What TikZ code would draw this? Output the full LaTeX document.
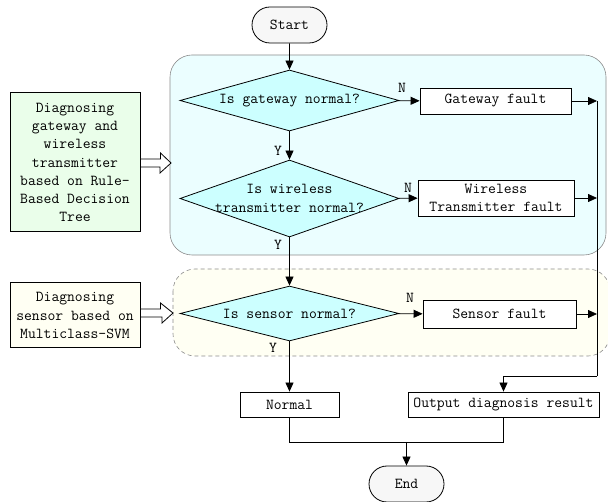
\documentclass[tikz,border=0pt]{standalone}
\usepackage{fontspec}
\usetikzlibrary{shapes.geometric,shapes.misc,arrows.meta,calc}
\definecolor{regionblue}{HTML}{EBFEFF}
\definecolor{regionyellow}{HTML}{FFFFF3}
\definecolor{decfill}{HTML}{CCFFFF}
\definecolor{methodgreen}{HTML}{EAFEEA}
\definecolor{methodyellow}{HTML}{FFFFF3}
\definecolor{rimgray}{HTML}{8C8C8C}
\tikzset{
  txt/.style={font=\ttfamily\fontsize{15.2}{18.3}\selectfont},
  terminal/.style={txt, draw, rounded rectangle, fill=white!97!black, line width=0.8pt,
    minimum width=75pt, minimum height=36pt, inner sep=0pt},
  decision/.style={draw, diamond, fill=decfill, line width=0.8pt, aspect=3.6,
    inner sep=0pt, minimum width=219pt},
  decisiontext/.style={txt, inner sep=0pt, align=center},
  procbox/.style={txt, draw, fill=white, line width=0.8pt, inner sep=0pt, align=center},
  method/.style={txt, draw, line width=1pt, inner sep=0pt, align=center},
  region/.style={draw=rimgray, line width=0.6pt, rounded corners=22pt},
  flow/.style={line width=0.8pt, -{Triangle[length=9pt,width=8pt]}},
  plain/.style={line width=0.8pt},
  yn/.style={txt, inner sep=0pt},
  hollow/.style={draw, fill=white, line width=0.8pt, line join=miter},
}
\begin{document}
\begin{tikzpicture}[x=1pt,y=-1pt]
\useasboundingbox (0,0) rectangle (608,502);

% shaded regions behind the decisions
\path[region, fill=regionblue] (170,55) rectangle (606,255);
\path[region, fill=regionyellow, dashed, dash pattern=on 4pt off 3pt] (173,269) rectangle (610,356);

% terminals
\node[terminal] (start) at (289.5,25) {Start};
\node[terminal] (end) at (406.5,484) {End};

% decisions (shape and wording kept apart so the wording may overrun the outline)
\node[decision, minimum height=61pt] (d1) at (289.5,100.5) {};
\node[decision, minimum height=77pt] (d2) at (289.5,198.5) {};
\node[decision, minimum height=55pt] (d3) at (289.5,313.5) {};
\node[decisiontext] (d1t) at (d1) {Is gateway normal?};
\node[decisiontext] (d2t) at (d2) {Is wireless\\transmitter normal?};
\node[decisiontext] (d3t) at (d3) {Is sensor normal?};

% fault boxes
\node[procbox, minimum width=151pt, minimum height=26pt] (gf) at (495.5,101) {Gateway fault};
\node[procbox, minimum width=156pt, minimum height=36pt] (wf) at (496,198) {Wireless\\Transmitter fault};
\node[procbox, minimum width=153pt, minimum height=28pt] (sf) at (499.5,314) {Sensor fault};

% results
\node[procbox, minimum width=99pt, minimum height=25pt] (nm) at (289.5,404.5) {Normal};
\node[procbox, minimum width=191pt, minimum height=25pt] (out) at (503.5,404.5) {Output diagnosis result};

% method boxes
\node[method, fill=methodgreen, minimum width=130pt, minimum height=139pt] (m1) at (75,162.5)
  {Diagnosing\\gateway and\\wireless\\transmitter\\based on Rule-\\Based Decision\\Tree};
\node[method, fill=methodyellow, minimum width=130pt, minimum height=65pt] (m2) at (75,315.5)
  {Diagnosing\\sensor based on\\Multiclass-SVM};

% collecting line and junctions
\coordinate (bus) at (597,101);
\coordinate (busend) at (597,376);
\coordinate (join) at (406.5,442);

% main flow
\draw[flow] (start) -- (d1);
\draw[flow] (d1) -- (d2);
\draw[flow] (d2) -- (d3);
\draw[flow] (d3) -- (nm);
\draw[flow] (d1) -- (gf);
\draw[flow] (d2) -- (wf);
\draw[flow] (d3) -- (sf);
\draw[flow] (gf) -- (bus);
\draw[flow] (wf.east) -- (wf.east -| bus);
\draw[flow] (sf.east) -- (sf.east -| bus);
\draw[plain] (bus) -- (busend);
\draw[flow] (busend) -| (out.north);
\draw[plain] (nm.south) |- (join);
\draw[plain] (out.south) |- (join);
\draw[flow] (join) -- (end);

% branch labels
\node[yn] at (402,88) {N};
\node[yn] at (408,188) {N};
\node[yn] at (410,298) {N};
\node[yn] at (278,151) {Y};
\node[yn] at (278,245) {Y};
\node[yn] at (273,348) {Y};

% hollow arrows from the method boxes
\coordinate (t1) at (171,163);
\draw[hollow] ([yshift=4pt]m1.east |- t1) -- ++(20,0) -- ++(0,-6) -- (t1)
  -- ++(-11,10) -- ++(0,-6) -- ([yshift=-4pt]m1.east |- t1) -- cycle;
\coordinate (t2) at (173,313);
\draw[hollow] ([yshift=4pt]m2.east |- t2) -- ++(20,0) -- ++(0,-6) -- (t2)
  -- ++(-11,10) -- ++(0,-6) -- ([yshift=-4pt]m2.east |- t2) -- cycle;
\end{tikzpicture}
\end{document}
